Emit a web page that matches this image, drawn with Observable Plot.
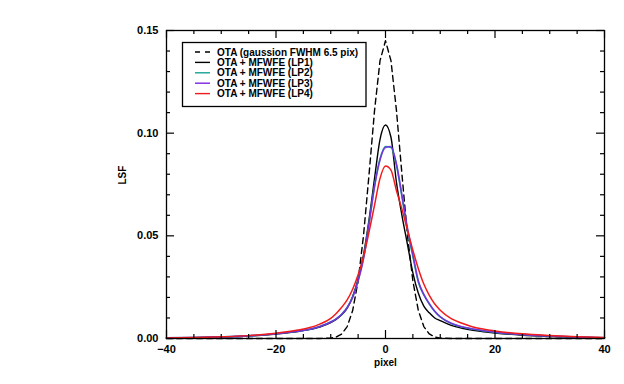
<!DOCTYPE html>
<html><head><meta charset="utf-8">
<script src="https://cdn.jsdelivr.net/npm/d3@7"></script>
<script src="https://cdn.jsdelivr.net/npm/@observablehq/plot@0.6"></script>
<style>
body{margin:0;background:#fff;}
#chart{width:624px;height:384px;}
</style></head><body><div id="chart"></div>
<script>
// ---- data ----
const xGauss = [-40,-30,-20,-12,-10,-9,-8,-7,-6,-5,-4,-3,-2,-1,0,1,2,3,4,5,6,7,8,9,10,12,20,30,40];
const gaussOTA = [0,0,0,0,0.0002,0.0007,0.0022,0.0058,0.0136,0.0280,0.0506,0.0801,0.1111,0.1353,0.1450,0.1353,0.1111,0.0801,0.0506,0.0280,0.0136,0.0058,0.0022,0.0007,0.0002,0,0,0,0];

const xMfwfe = [-40,-35,-30,-25,-20,-16,-14,-12,-10,-9,-8,-7,-6,-5,-4,-3,-2,-1,0,1,2,3,4,5,6,7,8,9,10,12,14,16,18,20,25,30,35,40];
const lp1 = [0.0002,0.0004,0.0007,0.0012,0.0022,0.0034,0.0043,0.0056,0.0077,0.0093,0.0115,0.0148,0.0205,0.0290,0.0410,0.0580,0.0780,0.0970,0.1040,0.0980,0.0760,0.0600,0.0460,0.0320,0.0220,0.0158,0.0125,0.0100,0.0087,0.0064,0.0050,0.0040,0.0033,0.0027,0.0016,0.0010,0.0006,0.0003];
const lp2 = [0.0003,0.0005,0.0008,0.0013,0.0023,0.0035,0.0044,0.0058,0.0080,0.0096,0.0118,0.0151,0.0202,0.0283,0.0395,0.0565,0.0745,0.0875,0.0935,0.0930,0.0845,0.0690,0.0530,0.0400,0.0275,0.0212,0.0168,0.0131,0.0105,0.0073,0.0056,0.0045,0.0037,0.0030,0.0019,0.0012,0.0007,0.0004];
const lp3 = [0.0003,0.0005,0.0008,0.0013,0.0023,0.0035,0.0044,0.0058,0.0080,0.0096,0.0118,0.0150,0.0200,0.0280,0.0390,0.0560,0.0740,0.0870,0.0930,0.0935,0.0850,0.0700,0.0540,0.0410,0.0280,0.0215,0.0170,0.0133,0.0106,0.0074,0.0057,0.0046,0.0038,0.0031,0.0019,0.0012,0.0007,0.0004];
const lp4 = [0.0003,0.0005,0.0008,0.0014,0.0026,0.0041,0.0052,0.0070,0.0098,0.0122,0.0152,0.0188,0.0240,0.0310,0.0400,0.0520,0.0650,0.0780,0.0840,0.0820,0.0720,0.0630,0.0530,0.0430,0.0340,0.0265,0.0210,0.0168,0.0138,0.0097,0.0074,0.0056,0.0045,0.0037,0.0023,0.0015,0.0009,0.0005];

const seriesNames = ["OTA (gaussion FWHM 6.5 pix)","OTA + MFWFE (LP1)","OTA + MFWFE (LP2)","OTA + MFWFE (LP3)","OTA + MFWFE (LP4)"];
const seriesColors = ["#000000","#000000","#14a394","#7b22e6","#f01c1c"];

const xMajorTicks = [-40,-20,0,20,40];
const xMinorTicks = [-35,-30,-25,-15,-10,-5,5,10,15,25,30,35];
const yMajorTicks = [0,0.05,0.10,0.15];
const yMinorTicks = [0.01,0.02,0.03,0.04,0.06,0.07,0.08,0.09,0.11,0.12,0.13,0.14];

// ---- layout ----
const W = 624, H = 384, mL = 166, mR = 20, mT = 30, mB = 46;
const pw = W - mL - mR, ph = H - mT - mB;
const rows = (xs, ys) => xs.map((x, i) => ({x, y: ys[i]}));
const fmtX = d => d < 0 ? "\u2212" + (-d) : String(d);

const plot = Plot.plot({
  width: W, height: H,
  marginLeft: mL, marginRight: mR, marginTop: mT, marginBottom: mB,
  x: {domain: [-40, 40]},
  y: {domain: [0, 0.15]},
  style: {fontFamily: "'Liberation Sans', Arial, sans-serif", fontWeight: "bold", fontSize: "11px", background: "white", color: "black"},
  marks: [
    Plot.line(rows(xGauss, gaussOTA), {x: "x", y: "y", stroke: seriesColors[0], strokeWidth: 1.4, strokeDasharray: "6,4"}),
    Plot.line(rows(xMfwfe, lp1), {x: "x", y: "y", stroke: seriesColors[1], strokeWidth: 1.4, curve: "monotone-x"}),
    Plot.line(rows(xMfwfe, lp2), {x: "x", y: "y", stroke: seriesColors[2], strokeWidth: 1.6, curve: "monotone-x"}),
    Plot.line(rows(xMfwfe, lp3), {x: "x", y: "y", stroke: seriesColors[3], strokeWidth: 1.6, strokeOpacity: 0.85, curve: "monotone-x"}),
    Plot.line(rows(xMfwfe, lp4), {x: "x", y: "y", stroke: seriesColors[4], strokeWidth: 1.5, curve: "monotone-x"}),
    Plot.frame({stroke: "black", strokeWidth: 1.3}),
    // inward ticks on all four sides
    Plot.tickX(xMajorTicks, {x: d => d, insetTop: ph - 8, stroke: "black", strokeWidth: 1.2}),
    Plot.tickX(xMajorTicks, {x: d => d, insetBottom: ph - 8, stroke: "black", strokeWidth: 1.2}),
    Plot.tickX(xMinorTicks, {x: d => d, insetTop: ph - 4, stroke: "black", strokeWidth: 1.2}),
    Plot.tickX(xMinorTicks, {x: d => d, insetBottom: ph - 4, stroke: "black", strokeWidth: 1.2}),
    Plot.tickY(yMajorTicks, {y: d => d, insetRight: pw - 8, stroke: "black", strokeWidth: 1.2}),
    Plot.tickY(yMajorTicks, {y: d => d, insetLeft: pw - 8, stroke: "black", strokeWidth: 1.2}),
    Plot.tickY(yMinorTicks, {y: d => d, insetRight: pw - 4, stroke: "black", strokeWidth: 1.2}),
    Plot.tickY(yMinorTicks, {y: d => d, insetLeft: pw - 4, stroke: "black", strokeWidth: 1.2}),
    Plot.axisX(xMajorTicks, {tickSize: 0, tickPadding: 7, tickFormat: fmtX, label: null}),
    Plot.axisY(yMajorTicks, {tickSize: 0, tickPadding: 8, tickFormat: d3.format(".2f"), label: null}),
    Plot.text(["pixel"], {frameAnchor: "bottom", text: d => d, dy: 27, fontSize: 10}),
    Plot.text(["LSF"], {frameAnchor: "left", text: d => d, rotate: -90, dx: -44, fontSize: 10})
  ]
});

// ---- legend box (inside the plot) ----
const svg = d3.select(plot);
const lg = svg.append("g")
  .attr("font-family", "'Liberation Sans', Arial, sans-serif")
  .attr("font-weight", "bold")
  .attr("font-size", "10px")
  .attr("text-anchor", "start");
lg.append("rect").attr("x", 182.5).attr("y", 42.5).attr("width", 183.5).attr("height", 64)
  .attr("fill", "white").attr("stroke", "black").attr("stroke-width", 1.3);
seriesNames.forEach((name, i) => {
  const yy = 52 + i * 10.4;
  lg.append("line").attr("x1", 195).attr("x2", 210).attr("y1", yy).attr("y2", yy)
    .attr("stroke", seriesColors[i]).attr("stroke-width", 1.4)
    .attr("stroke-dasharray", i === 0 ? "5,5" : null);
  lg.append("text").attr("x", 217).attr("y", yy).attr("dy", "0.36em")
    .attr("text-anchor", "start").attr("fill", "black").text(name);
});

document.getElementById("chart").appendChild(plot);
</script></body></html>
